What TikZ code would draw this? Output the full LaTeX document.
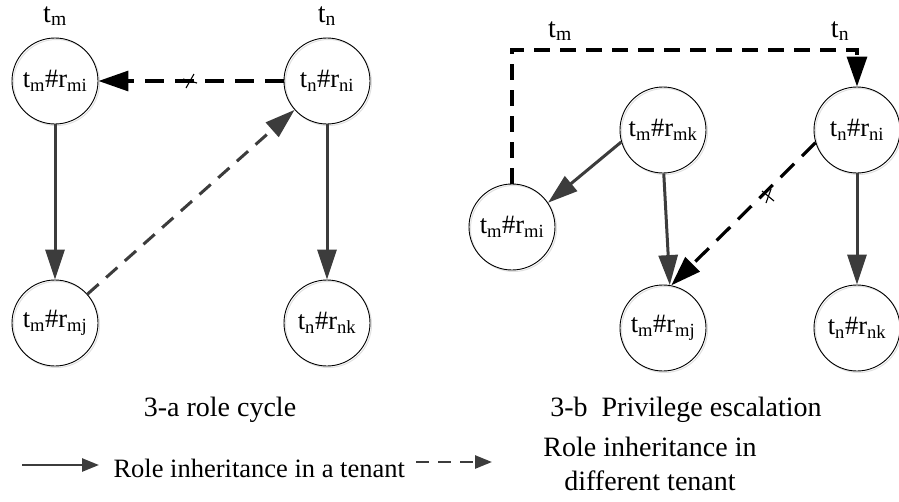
\documentclass[tikz,border=0pt]{standalone}
\usepackage{fontspec}
\setmainfont{Liberation Serif}
\usetikzlibrary{arrows.meta}
\definecolor{dg}{HTML}{3C3C3C}
\tikzset{
  role/.style={circle,draw,line width=0.9pt,minimum size=86pt,inner sep=0pt,
    font=\fontsize{26.5}{30}\selectfont,
    preaction={draw=black!12,line width=1pt,transform canvas={xshift=1.5pt,yshift=-1.5pt}}},
  lbl/.style={font=\fontsize{28}{32}\selectfont},
  captxt/.style={font=\fontsize{28}{34}\selectfont,align=center},
  inh/.style={draw=dg,line width=3pt,-{Triangle[length=30pt,width=19pt]}},
  xinh/.style={draw=dg,line width=3pt,dash pattern=on 15pt off 10pt,-{Triangle[length=30pt,width=19pt]}},
  xbad/.style={draw=black,line width=3.2pt,dash pattern=on 19pt off 11pt,-{Triangle[length=30pt,width=20pt]}},
  tickmark/.style={draw=black,line width=1.1pt},
}
\newcommand{\rl}[3]{t\textsubscript{#1}\#r\textsubscript{#2#3}}
\begin{document}
\begin{tikzpicture}[x=1pt,y=-1pt]
\useasboundingbox (0,0) rectangle (899,501);
% ---- 3-a
\node[lbl] (tmA) at (55,16) {t\textsubscript{m}};
\node[lbl] (tnA) at (327,16) {t\textsubscript{n}};
\node[role] (ami) at (55,81) {\rl{m}{m}{i}};
\node[role] (ani) at (327,81) {\rl{n}{n}{i}};
\node[role] (amj) at (55,323) {\rl{m}{m}{j}};
\node[role] (ank) at (327,323) {\rl{n}{n}{k}};
\draw[inh] (ami) -- (amj);
\draw[inh] (ani) -- (ank);
\draw[xinh] (amj) -- (ani);
\draw[xbad] (ani) -- (ami);
\coordinate (xa) at (190,81);
\draw[tickmark] ([shift={(-4,7)}]xa) -- ([shift={(4,-7)}]xa);
\draw[tickmark] ([shift={(-7,-2)}]xa) -- ([shift={(7,2)}]xa);
\node[captxt] (capA) at (220,410) {3-a role cycle};
% ---- 3-b
\node[lbl] (tmB) at (560,31) {t\textsubscript{m}};
\node[lbl] (tnB) at (840,31) {t\textsubscript{n}};
\node[role] (bmk) at (663,130) {\rl{m}{m}{k}};
\node[role] (bni) at (857,130) {\rl{n}{n}{i}};
\node[role] (bmi) at (512,227) {\rl{m}{m}{i}};
\node[role] (bmj) at (663,328) {\rl{m}{m}{j}};
\node[role] (bnk) at (857,328) {\rl{n}{n}{k}};
\draw[inh] (bmk.196) -- (bmi.34);
\draw[inh] (bmk.271) -- (bmj.81);
\draw[inh] (bni) -- (bnk);
\draw[xbad] (bni.197) -- (bmj.79);
\draw[xbad,dash pattern=on 16pt off 10pt] (bmi.north) |- (512,50) -| (bni.north);
\coordinate (xb) at (768,196);
\draw[tickmark] ([shift={(-6,-5)}]xb) -- ([shift={(6,5)}]xb);
\draw[tickmark] ([shift={(-2,7)}]xb) -- ([shift={(3,-7)}]xb);
\node[captxt] (capB) at (686,410) {3-b\ \ Privilege escalation};
% ---- legend
\coordinate (l1a) at (22,465);
\coordinate (l1b) at (99,465);
\draw[draw=dg,line width=2.6pt,-{Triangle[length=17pt,width=13pt]}] (l1a) -- (l1b);
\node[captxt,anchor=west,font=\fontsize{26.5}{32}\selectfont] (leg1) at (110,468) {Role inheritance in a tenant};
\coordinate (l2a) at (416,462);
\coordinate (l2b) at (492,462);
\draw[draw=dg,line width=2.6pt,dash pattern=on 13pt off 9pt,-{Triangle[length=17pt,width=13pt]}] (l2a) -- (l2b);
\node[captxt] (leg2) at (650,464) {Role inheritance in\\different tenant};
\end{tikzpicture}
\end{document}
